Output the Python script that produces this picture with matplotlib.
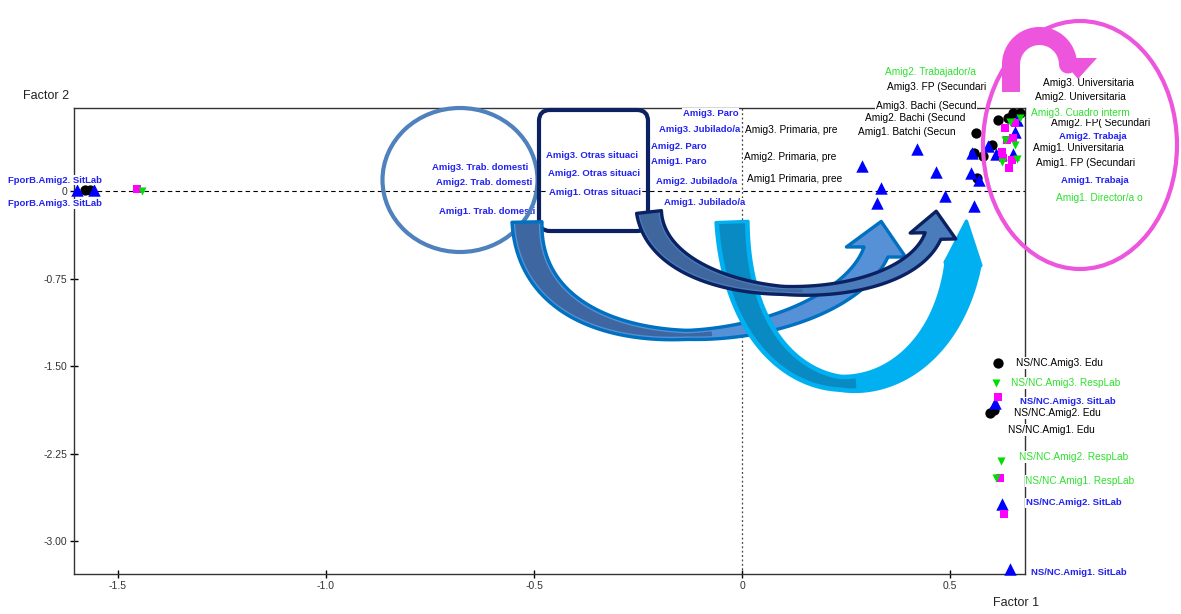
import numpy as np
import matplotlib
matplotlib.use("Agg")
import matplotlib.pyplot as plt
from matplotlib import patches, transforms
from matplotlib.lines import Line2D

plt.rcParams["font.family"] = ["Liberation Sans", "DejaVu Sans"]

# ---- data (factor scores) ----
# SitLab categories (blue triangles)
sit_x = [-1.599, -1.558, 0.288, 0.421, 0.466, 0.334, 0.325, 0.488, 0.558, 0.553,
         0.550, 0.570, 0.591, 0.611, 0.651, 0.656, 0.661, 0.608, 0.625, 0.644]
sit_y = [0.009, 0.009, 0.214, 0.360, 0.163, 0.026, -0.103, -0.043, -0.129, 0.326,
         0.154, 0.094, 0.386, 0.317, 0.317, 0.506, 0.608, -1.817, -2.682, -3.239]
# Edu categories (black circles)
edu_x = [-1.579, -1.567, 0.5625, 0.558, 0.565, 0.601, 0.615, 0.651, 0.639, 0.668,
         0.579, 0.615, 0.596, 0.606]
edu_y = [0.010, 0.010, 0.497, 0.326, 0.111, 0.394, 0.608, 0.668, 0.626, 0.668,
         0.300, -1.474, -1.902, -1.877]
# fourth variable (magenta squares)
sq_x = [-1.454, 0.632, 0.656, 0.651, 0.637, 0.625, 0.627, 0.649, 0.642, 0.615, 0.620, 0.630]
sq_y = [0.017, 0.540, 0.583, 0.454, 0.437, 0.334, 0.283, 0.266, 0.197, -1.765, -2.459, -2.768]
# RespLab categories (green down triangles)
resp_x = [-1.442, 0.668, 0.644, 0.632, 0.656, 0.661, 0.625, 0.611, 0.623, 0.611]
resp_y = [0.000, 0.626, 0.591, 0.437, 0.394, 0.274, 0.249, -1.645, -2.314, -2.459]

# category labels
edu_lab = ["Amig3. Primaria, pre", "Amig2. Primaria, pre", "Amig1 Primaria, pree",
           "Amig3. FP (Secundari", "Amig3. Bachi (Secund", "Amig2. Bachi (Secund",
           "Amig1. Batchi (Secun", "Amig3. Universitaria", "Amig2. Universitaria",
           "Amig2. FP( Secundari", "Amig1. Universitaria", "Amig1. FP (Secundari",
           "NS/NC.Amig3. Edu", "NS/NC.Amig2. Edu", "NS/NC.Amig1. Edu"]
edu_lx = [0.118, 0.115, 0.127, 0.469, 0.442, 0.416, 0.397, 0.832, 0.8125, 0.861,
          0.808, 0.825, 0.764, 0.757, 0.743]
edu_ly = [0.523, 0.291, 0.103, 0.891, 0.728, 0.626, 0.506, 0.925, 0.805, 0.583,
          0.368, 0.240, -1.474, -1.902, -2.048]

resp_lab = ["Amig2. Trabajador/a", "Amig3. Cuadro interm", "Amig1. Director/a o",
            "NS/NC.Amig3. RespLab", "NS/NC.Amig2. RespLab", "NS/NC.Amig1. RespLab"]
resp_lx = [0.454, 0.8125, 0.858, 0.779, 0.796, 0.8125]
resp_ly = [1.020, 0.668, -0.060, -1.645, -2.279, -2.485]

sit_lab = ["FporB.Amig2. SitLab", "FporB.Amig3. SitLab",
           "Amig3. Trab. domesti", "Amig2. Trab. domesti", "Amig1. Trab. domesti",
           "Amig3. Otras situaci", "Amig2. Otras situaci", "Amig1. Otras situaci",
           "Amig3. Paro", "Amig3. Jubilado/a", "Amig2. Paro", "Amig1. Paro",
           "Amig2. Jubilado/a", "Amig1. Jubilado/a", "Amig2. Trabaja", "Amig1. Trabaja",
           "NS/NC.Amig3. SitLab", "NS/NC.Amig2. SitLab", "NS/NC.Amig1. SitLab"]
sit_lx = [-1.651, -1.651, -0.630, -0.620, -0.613, -0.361, -0.356, -0.353,
          -0.075, -0.101, -0.151, -0.151, -0.108, -0.089, 0.844, 0.849,
          0.784, 0.798, 0.810]
sit_ly = [0.094, -0.111, 0.197, 0.069, -0.180, 0.308, 0.154, -0.017,
          0.668, 0.523, 0.377, 0.249, 0.077, -0.103, 0.471, 0.094,
          -1.808, -2.673, -3.273]

xticks = [-1.5, -1.0, -0.5, 0, 0.5]
xtick_labels = ["-1.5", "-1.0", "-0.5", "0", "0.5"]
yticks = [0, -0.75, -1.5, -2.25, -3.0]
ytick_labels = ["0", "-0.75", "-1.50", "-2.25", "-3.00"]

W, H = 1181, 614
BLUE_TXT = "#2323F0"
GREEN_TXT = "#2FE02F"


def bez(ctrl, t):
    p = np.asarray(ctrl, float)
    t = t[:, None]
    return (1 - t) ** 3 * p[0] + 3 * (1 - t) ** 2 * t * p[1] + 3 * (1 - t) * t ** 2 * p[2] + t ** 3 * p[3]


def bez_d(ctrl, t):
    p = np.asarray(ctrl, float)
    t = t[:, None]
    return 3 * (1 - t) ** 2 * (p[1] - p[0]) + 6 * (1 - t) * t * (p[2] - p[1]) + 3 * t ** 2 * (p[3] - p[2])


def ribbon(ctrl, widths, t0=0.0, t1=1.0, head=None, n=90):
    # band along a cubic bezier, width varying tail -> middle -> end
    t = np.linspace(t0, t1, n)
    c = bez(ctrl, t)
    d = bez_d(ctrl, t)
    d = d / np.linalg.norm(d, axis=1)[:, None]
    nrm = np.column_stack([-d[:, 1], d[:, 0]])
    w = np.interp(t, [0, 0.5, 1], widths)[:, None] / 2
    pts = [c + nrm * w]
    if head is not None:
        hw, hl, hdir = head
        h = np.asarray(hdir, float)
        h = h / np.linalg.norm(h)
        hn = np.array([-h[1], h[0]])
        pts.append([c[-1] + hn * hw / 2, c[-1] + h * hl, c[-1] - hn * hw / 2])
    pts.append((c - nrm * w)[::-1])
    return np.vstack(pts)


fig = plt.figure(figsize=(W / 100, H / 100), dpi=100)
ax = fig.add_axes([74 / W, 1 - 574 / H, (1025 - 74) / W, (574 - 108) / H])
ax.set_xlim(-1.6058, 0.6803)
ax.set_ylim(-3.282, 0.711)

ax.axhline(0, color="black", lw=0.8, ls=(0, (4, 3)), zorder=1)
ax.axvline(0, color="#444444", lw=0.9, ls=(0, (1.5, 2)), zorder=1)

kw = dict(linewidths=0, clip_on=False, zorder=3)
ax.scatter(edu_x, edu_y, s=55, marker="o", color="black", **kw)
ax.scatter(sit_x, sit_y, s=80, marker="^", color="#0000FF", **kw)
ax.scatter(sq_x, sq_y, s=26, marker="s", color="#FF00FF", **kw)
ax.scatter(resp_x, resp_y, s=34, marker="v", color="#00E000", **kw)

box = dict(boxstyle="square,pad=0.08", fc="white", ec="none")
for s, x, y in zip(edu_lab, edu_lx, edu_ly):
    ax.text(x, y, s, ha="center", va="center", fontsize=7.3, color="black",
            bbox=box, clip_on=False, zorder=4)
for s, x, y in zip(resp_lab, resp_lx, resp_ly):
    ax.text(x, y, s, ha="center", va="center", fontsize=7.3, color=GREEN_TXT,
            bbox=box, clip_on=False, zorder=4.1)
for s, x, y in zip(sit_lab, sit_lx, sit_ly):
    ax.text(x, y, s, ha="center", va="center", fontsize=6.8, fontweight="bold",
            color=BLUE_TXT, bbox=box, clip_on=False, zorder=4.2)

ax.set_xticks(xticks, xtick_labels)
ax.set_yticks(yticks, ytick_labels)
ax.tick_params(direction="inout", length=6, width=1, labelsize=7.5,
               labelcolor="#333333", pad=2)
for sp in ax.spines.values():
    sp.set_color("#333333")
    sp.set_linewidth(1)

fig.text(23 / W, 1 - 96 / H, "Factor 2", fontsize=9, color="#222222", va="center")
fig.text(993 / W, 1 - 603 / H, "Factor 1", fontsize=9, color="#222222", va="center")

# ---- hand-drawn overlay shapes (figure pixel coordinates, y down) ----
pix = transforms.Affine2D().scale(1 / W, -1 / H).translate(0, 1) + fig.transFigure

fig.add_artist(patches.Ellipse((460, 180), 155, 144, fill=False, ec="#4F81BD",
                               lw=3, transform=pix, zorder=5))
fig.add_artist(patches.FancyBboxPatch((539, 110), 109, 121,
                                      boxstyle="round,pad=0,rounding_size=11",
                                      fill=False, ec="#0B2161", lw=3,
                                      transform=pix, zorder=5))

arrows = [
    # ctrl points, widths, head (width, length, direction), tail face, head face, edge
    ([(527, 222), (530, 385), (835, 350), (876, 252)], [30, 9, 26], (60, 31, (0.17, -1)),
     "#3E67A2", "#5690D6", "#0070C0"),
    ([(732, 222), (740, 430), (935, 430), (963, 264)], [32, 14, 34], (36, 43, (0.08, -1)),
     "#0A8AC2", "#00B0F0", "#00B0F0"),
    ([(649, 212), (660, 310), (900, 315), (933, 236)], [25, 8, 17], (46, 25, (0.13, -1)),
     "#3F679E", "#4A7CBB", "#0B2161"),
]
z = 6
for ctrl, widths, head, f1, f2, ec in arrows:
    full = ribbon(ctrl, widths, head=head)
    fig.add_artist(patches.Polygon(full, closed=True, fc=f2, ec="none",
                                   transform=pix, zorder=z))
    part = ribbon(ctrl, [w - 6 for w in widths], 0.0, 0.55)
    fig.add_artist(patches.Polygon(part, closed=True, fc=f1, ec="none",
                                   transform=pix, zorder=z + 0.1))
    fig.add_artist(patches.Polygon(full, closed=True, fill=False, ec=ec, lw=2.4,
                                   joinstyle="round", transform=pix, zorder=z + 0.2))
    z += 1

PINK = "#EE55DD"
fig.add_artist(patches.Ellipse((1080, 145), 194, 248, fill=False, ec=PINK,
                               lw=3, transform=pix, zorder=9))
ang = np.linspace(np.pi, 0, 40)
cx, cy, r = 1039.5, 64.5, 28.5
ux = np.concatenate([[1011], cx + r * np.cos(ang), [1068]])
uy = np.concatenate([[92], cy - r * np.sin(ang), [60]])
fig.add_artist(Line2D(ux, uy, color=PINK, lw=13, solid_capstyle="butt",
                      solid_joinstyle="round", transform=pix, zorder=9))
fig.add_artist(patches.Polygon([(1060, 58), (1097, 58), (1078, 79)], closed=True,
                               fc=PINK, ec="none", transform=pix, zorder=9))

fig.savefig("out.png", dpi=100)
